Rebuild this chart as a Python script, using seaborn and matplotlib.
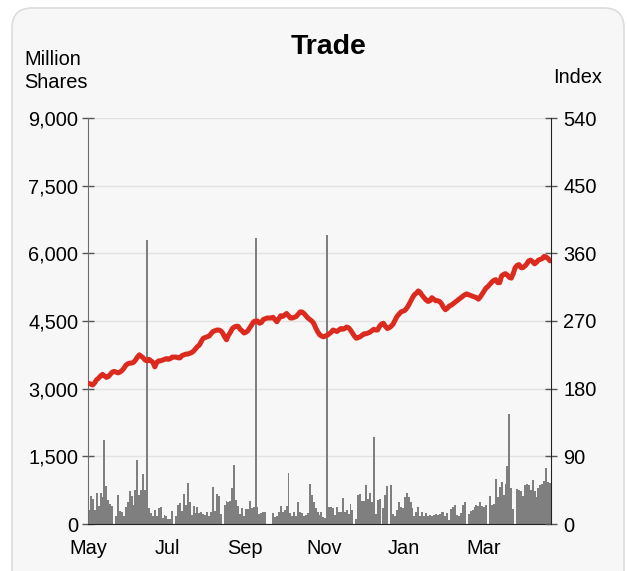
import numpy as np
import pandas as pd
import matplotlib
matplotlib.use('Agg')
import matplotlib.pyplot as plt
from matplotlib.patches import FancyBboxPatch
import seaborn as sns

nan = np.nan

# daily turnover, million shares (nan = no trading)
volume = [318, 614, 555, 318, 688, 392, 688, 592, 1865, 836, 540, 444, 392, nan, 170, 644, 289, 259, 170, 370,
          496, 740, 614, 422, 762, 1420, 644, 755, 1110, 762, 6300, 348, 244, 185, 318, 185, 348, 370, 126, 200,
          185, 111, 111, 281, nan, 185, 422, 466, 296, 666, 422, 910, 496, 200, 392, 244, 370, 244, 259, 222,
          200, 259, 185, 274, 814, 296, 666, 614, 222, nan, 422, 518, 481, 518, 792, 1310, 540, 407, 222, 348,
          170, 333, 333, 518, 348, 370, 6350, 370, 222, 244, 259, 274, nan, nan, nan, 244, 148, 185, 259, 392,
          274, 318, 392, 1132, 244, 185, 259, 170, 481, 274, 244, 170, 200, 244, 888, 644, 481, 348,
          274, 200, 259, 148, 126, 6400, 370, 370, 348, 200, 370, 259, 259, 570, 259, 318, 222, 444, 318, nan,
          111, 644, 666, 518, 518, 866, 555, 688, 496, 1924, 222, 540, 555, nan, 348, 644, 851, nan, 866, 222,
          185, 318, 496, 370, 348, 592, 688, 592, 481, 348, 185, 274, 370, 170, 259, 185, 244, 170, 200,
          178, 207, 229, 207, 222, 266, 266, 178, 252, 81, 340, 377, 429, 207, 178, 252, 429, 488, nan, 229,
          281, 303, 377, 429, 400, 488, 400, 377, 414, nan, 622, 429, 451, 1006, 599, 821, 932, 651, 895, 1288,
          2449, 799, 340, nan, 770, 747, 725, 622, 873, 895, 858, 747, 969, 725, 599, 799, 858, 895, 947, 1243,
          932, 918]

# daily index close
index_close = [187, 186, 185, 188, 192, 194, 197, 199, 197, 195, 196, 199, 202, 203, 202, 201, 202, 204, 207, 211,
               213, 214, 214, 215, 218, 222, 225, 223, 221, 218, 217, 219, 217, 215, 209, 215, 217, 217, 218, 219,
               220, 219, 220, 222, 222, 222, 221, 221, 224, 225, 226, 226, 227, 228, 230, 233, 236, 238, 243, 247,
               248, 249, 250, 253, 256, 257, 258, 258, 257, 254, 249, 245, 251, 255, 260, 262, 263, 263, 259, 257,
               254, 255, 257, 261, 265, 269, 270, 270, 267, 268, 272, 273, 274, 274, 274, 275, 272, 269, 273, 277,
               276, 278, 280, 277, 274, 274, 275, 276, 279, 282, 282, 280, 277, 274, 272, 270, 267, 261, 256, 252,
               250, 249, 250, 251, 253, 255, 258, 257, 256, 258, 260, 259, 260, 262, 261, 258, 254, 250, 247, 248,
               249, 251, 253, 253, 254, 255, 257, 259, 258, 258, 263, 266, 267, 263, 260, 261, 263, 266, 271, 276,
               279, 282, 283, 284, 287, 291, 296, 301, 305, 307, 310, 308, 304, 301, 298, 296, 297, 301, 299, 297,
               297, 296, 293, 288, 285, 287, 290, 291, 293, 295, 297, 299, 301, 303, 305, 306, 305, 304, 303, 302,
               301, 299, 302, 306, 310, 314, 316, 319, 322, 324, 325, 321, 321, 330, 332, 333, 331, 328, 327, 333,
               341, 344, 345, 341, 341, 343, 346, 350, 351, 349, 346, 348, 351, 352, 353, 356, 355, 353, 350]

month_labels = ['May', 'Jun', 'Jul', 'Aug', 'Sep', 'Oct', 'Nov', 'Dec', 'Jan', 'Feb', 'Mar', 'Apr']
month_start = [0, 20, 41, 61, 81, 102, 122, 143, 163, 184, 204, 224]
vol_ticks = [0, 1500, 3000, 4500, 6000, 7500, 9000]
idx_ticks = [0, 90, 180, 270, 360, 450, 540]

df = pd.DataFrame({'day': np.arange(len(volume)), 'volume': volume, 'index': index_close})

sns.set_style('white')
plt.rcParams['font.family'] = ['Liberation Sans', 'DejaVu Sans']
plt.rcParams['text.color'] = 'black'
plt.rcParams['xtick.color'] = 'black'
plt.rcParams['ytick.color'] = 'black'

W, H = 627, 571
fig = plt.figure(figsize=(W / 100, H / 100), dpi=100)
fig.patch.set_facecolor('white')

# rounded panel behind the chart
panel = FancyBboxPatch((12 / 100, -0.3), (624 - 12) / 100, (H - 8) / 100 + 0.3,
                       boxstyle='round,pad=0,rounding_size=0.2',
                       transform=fig.dpi_scale_trans, facecolor='#f7f7f7',
                       edgecolor='#dcdcdc', linewidth=1.2, zorder=-5)
fig.patches.append(panel)

ax = fig.add_axes([88 / W, 1 - 524 / H, 463 / W, 406 / H])
ax.set_facecolor('none')
ax2 = ax.twinx()

ax.bar(df['day'], df['volume'], width=1.0, color='#7f7f7f', linewidth=0, antialiased=False)
sns.lineplot(data=df, x='day', y='index', ax=ax2, color='#dc2a1f', linewidth=3.6)

ax.set_xlim(-0.5, len(volume) - 0.5)
ax.set_ylim(0, 9000)
ax2.set_ylim(0, 540)

ax.set_xticks([m - 0.5 for m in month_start])
ax.set_xticklabels([m if i % 2 == 0 else '' for i, m in enumerate(month_labels)])
ax.set_yticks(vol_ticks)
ax.set_yticklabels([f'{v:,}' for v in vol_ticks])
ax2.set_yticks(idx_ticks)
ax2.set_yticklabels([str(v) for v in idx_ticks])

ax.grid(axis='y', color='#e2e2e2', linewidth=1)
ax.grid(axis='x', visible=False)
ax.set_axisbelow(True)
ax2.grid(False)

for a in (ax, ax2):
    a.spines['top'].set_visible(False)
    a.set_xlabel('')
    a.set_ylabel('')
ax.spines['left'].set_color('#6e6e6e')
ax.spines['bottom'].set_color('#222222')
ax.spines['right'].set_visible(False)
ax2.spines['left'].set_visible(False)
ax2.spines['bottom'].set_visible(False)
ax2.spines['right'].set_color('#222222')

ax.tick_params(axis='y', direction='inout', length=8, width=1, color='#555555', labelsize=14.4, pad=3)
ax.tick_params(axis='x', direction='out', length=4.5, width=1, color='#222222', labelsize=14.4, pad=6)
ax2.tick_params(axis='y', direction='inout', length=8, width=1, color='#555555', labelsize=14.4, pad=5)

fig.text(329 / W, 1 - 47 / H, 'Trade', ha='center', va='center', fontsize=20.5, fontweight='bold')
fig.text(24 / W, 1 - 71 / H, 'Million\nShares', ha='left', va='center', fontsize=14.4, linespacing=1.25)
fig.text(602 / W, 1 - 77 / H, 'Index', ha='right', va='center', fontsize=14.4)

fig.savefig('out.png', dpi=100)
